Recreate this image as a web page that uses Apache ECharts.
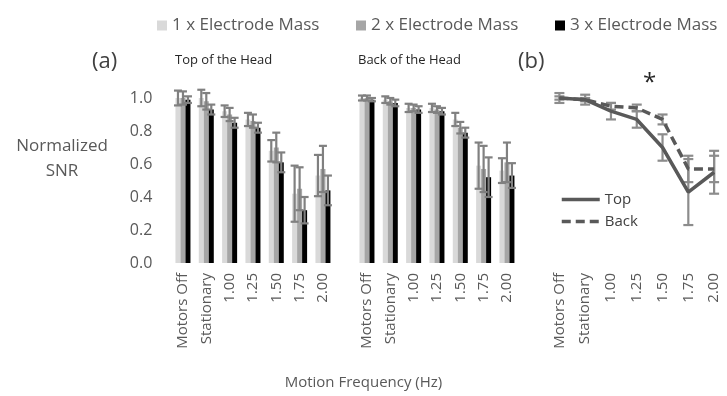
<!DOCTYPE html>
<html>
<head>
<meta charset="utf-8">
<script src="https://cdn.jsdelivr.net/npm/echarts@6/dist/echarts.min.js"></script>
<style>
  html, body { margin: 0; padding: 0; background: #fff; }
  #chart { width: 727px; height: 396px; }
</style>
</head>
<body>
<div id="chart"></div>
<script>
var categories = ['Motors Off', 'Stationary', '1.00', '1.25', '1.50', '1.75', '2.00'];
var massNames = ['1 x Electrode Mass', '2 x Electrode Mass', '3 x Electrode Mass'];
var yTicks = [0, 0.2, 0.4, 0.6, 0.8, 1.0];

// (a) top of the head
var top1 = [1.00, 1.00, 0.92, 0.87, 0.68, 0.42, 0.53];
var top1Err = [0.045, 0.05, 0.035, 0.04, 0.065, 0.17, 0.125];
var top2 = [1.00, 0.98, 0.90, 0.86, 0.70, 0.45, 0.57];
var top2Err = [0.04, 0.05, 0.04, 0.04, 0.09, 0.13, 0.14];
var top3 = [0.99, 0.93, 0.85, 0.82, 0.61, 0.32, 0.44];
var top3Err = [0.02, 0.03, 0.03, 0.03, 0.06, 0.08, 0.09];

// (a) back of the head
var back1 = [1.00, 0.99, 0.94, 0.94, 0.87, 0.59, 0.56];
var back1Err = [0.015, 0.02, 0.025, 0.025, 0.04, 0.14, 0.075];
var back2 = [1.00, 0.98, 0.94, 0.93, 0.82, 0.57, 0.61];
var back2Err = [0.015, 0.02, 0.02, 0.02, 0.035, 0.14, 0.12];
var back3 = [0.99, 0.97, 0.93, 0.92, 0.79, 0.52, 0.53];
var back3Err = [0.01, 0.02, 0.02, 0.02, 0.03, 0.12, 0.075];

// (b) averages
var topAvg = [1.00, 0.99, 0.92, 0.87, 0.70, 0.43, 0.55];
var topAvgErr = [0.03, 0.03, 0.05, 0.05, 0.08, 0.20, 0.13];
var backAvg = [1.00, 0.99, 0.95, 0.94, 0.87, 0.57, 0.57];
var backAvgErr = [0.01, 0.01, 0.02, 0.02, 0.03, 0.08, 0.08];

var FONT = 'Open Sans';
var barColors = ['#d9d9d9', '#a6a6a6', '#000000'];
var BAR_W = 5;

function errSeries(axis, vals, errs, offset, cap, color) {
    return {
        type: 'custom',
        xAxisIndex: axis,
        yAxisIndex: axis,
        z: 10,
        silent: true,
        encode: { x: 0, y: 1 },
        data: vals.map(function (v, i) { return [i, v, errs[i]]; }),
        renderItem: function (params, api) {
            var hi = api.coord([api.value(0), api.value(1) + api.value(2)]);
            var lo = api.coord([api.value(0), api.value(1) - api.value(2)]);
            var x = hi[0] + offset;
            var st = { stroke: color, lineWidth: 2.2 };
            return {
                type: 'group',
                children: [
                    { type: 'line', shape: { x1: x, y1: hi[1], x2: x, y2: lo[1] }, style: st },
                    { type: 'line', shape: { x1: x - cap, y1: hi[1], x2: x + cap, y2: hi[1] }, style: st },
                    { type: 'line', shape: { x1: x - cap, y1: lo[1], x2: x + cap, y2: lo[1] }, style: st }
                ]
            };
        }
    };
}

function barSeries(axis, k, vals) {
    return {
        name: massNames[k],
        type: 'bar',
        xAxisIndex: axis,
        yAxisIndex: axis,
        barWidth: BAR_W,
        barGap: '0%',
        itemStyle: { color: barColors[k] },
        data: vals
    };
}

var catAxis = function (i) {
    return {
        type: 'category',
        gridIndex: i,
        data: categories,
        axisLine: { show: false },
        axisTick: { show: false },
        axisLabel: { rotate: 90, interval: 0, margin: 10, fontFamily: FONT, fontSize: 15, color: '#595959' }
    };
};
var valAxis = function (i, labels) {
    return {
        type: 'value',
        gridIndex: i,
        min: yTicks[0],
        max: yTicks[yTicks.length - 1],
        interval: 0.2,
        axisLine: { show: false },
        axisTick: { show: false },
        splitLine: { show: false },
        axisLabel: {
            show: labels, margin: 19, fontFamily: FONT, fontSize: 16, color: '#595959',
            formatter: function (v) { return v.toFixed(1); }
        }
    };
};

function massLegend(k, left) {
    return {
        data: [massNames[k]],
        left: left,
        top: 12,
        icon: 'rect',
        itemWidth: 10,
        itemHeight: 10,
        selectedMode: false,
        textStyle: { fontFamily: FONT, fontSize: 17, color: '#595959' }
    };
}

var option = {
    animation: false,
    backgroundColor: '#ffffff',
    grid: [
        { left: 171.3, top: 98, width: 163.3, height: 165 },
        { left: 355.3, top: 98, width: 163.3, height: 165 },
        { left: 546.5, top: 98, width: 188.5, height: 165 }
    ],
    xAxis: [catAxis(0), catAxis(1), catAxis(2)],
    yAxis: [valAxis(0, true), valAxis(1, false), valAxis(2, false)],
    legend: [
        massLegend(0, 152),
        massLegend(1, 351),
        massLegend(2, 550),
        {
            data: ['Top', 'Back'],
            orient: 'vertical',
            left: 555,
            top: 187,
            itemWidth: 38,
            itemHeight: 12,
            itemGap: 7,
            selectedMode: false,
            itemStyle: { opacity: 0 },
            lineStyle: { width: 3.5 },
            textStyle: { fontFamily: FONT, fontSize: 15, color: '#404040' }
        }
    ],
    graphic: [
        { type: 'text', x: 62, y: 134, style: { text: 'Normalized\nSNR', fontFamily: FONT, fontSize: 17, lineHeight: 25, fill: '#595959', align: 'center', verticalAlign: 'top' } },
        { type: 'text', left: 'center', top: 375, style: { text: 'Motion Frequency (Hz)', fontFamily: FONT, fontSize: 15, fill: '#595959' } },
        { type: 'text', left: 92, top: 51, style: { text: '(a)', fontFamily: FONT, fontSize: 22, fill: '#404040' } },
        { type: 'text', left: 518, top: 51, style: { text: '(b)', fontFamily: FONT, fontSize: 22, fill: '#404040' } },
        { type: 'text', left: 175, top: 54, style: { text: 'Top of the Head', fontFamily: FONT, fontSize: 13, fill: '#262626' } },
        { type: 'text', left: 358, top: 54, style: { text: 'Back of the Head', fontFamily: FONT, fontSize: 13, fill: '#262626' } },
        { type: 'text', left: 643, top: 71, style: { text: '*', fontFamily: FONT, fontSize: 24, fill: '#262626' } }
    ],
    series: [
        barSeries(0, 0, top1), barSeries(0, 1, top2), barSeries(0, 2, top3),
        barSeries(1, 0, back1), barSeries(1, 1, back2), barSeries(1, 2, back3),
        errSeries(0, top1, top1Err, -BAR_W, 4, '#808080'),
        errSeries(0, top2, top2Err, 0, 4, '#808080'),
        errSeries(0, top3, top3Err, BAR_W, 4, '#808080'),
        errSeries(1, back1, back1Err, -BAR_W, 4, '#808080'),
        errSeries(1, back2, back2Err, 0, 4, '#808080'),
        errSeries(1, back3, back3Err, BAR_W, 4, '#808080'),
        errSeries(2, backAvg, backAvgErr, 0, 5, '#8c8c8c'),
        errSeries(2, topAvg, topAvgErr, 0, 5, '#8c8c8c'),
        {
            name: 'Top', type: 'line', xAxisIndex: 2, yAxisIndex: 2, z: 12,
            symbol: 'none', data: topAvg,
            lineStyle: { color: '#595959', width: 3.5 }, itemStyle: { color: '#595959' }
        },
        {
            name: 'Back', type: 'line', xAxisIndex: 2, yAxisIndex: 2, z: 11,
            symbol: 'none', data: backAvg,
            lineStyle: { color: '#595959', width: 3.5, type: [9, 5] }, itemStyle: { color: '#595959' }
        }
    ]
};

var myChart = echarts.init(document.getElementById('chart'));
myChart.setOption(option);
</script>
</body>
</html>
